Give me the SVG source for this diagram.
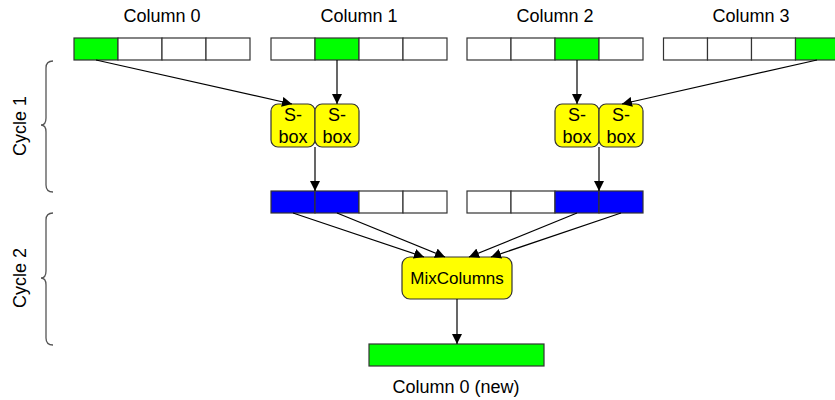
<svg xmlns="http://www.w3.org/2000/svg" width="835" height="400" viewBox="0 0 835 400">
  <defs>
    <marker id="arrow" viewBox="0 0 10 10" refX="10" refY="5" markerWidth="10" markerHeight="10" markerUnits="userSpaceOnUse" orient="auto">
      <path d="M0,0 L10,5 L0,10 Z" fill="#000"/>
    </marker>
  </defs>
  <style>
    text { font-family: "Liberation Sans", Arial, sans-serif; fill: #000; }
    .lbl { font-size: 18px; text-anchor: middle; }
    .mix { font-size: 17px; }
    .cell { fill: #fff; stroke: #333; stroke-width: 1.2; }
    .green { fill: #00ff00; }
    .blue { fill: #0000ff; }
    .box { fill: #ffff00; stroke: #333; stroke-width: 1.2; }
    .edge { stroke: #000; stroke-width: 1.2; fill: none; marker-end: url(#arrow); }
    .brace { stroke: #555; stroke-width: 1.3; fill: none; }
  </style>
  <rect width="835" height="400" fill="#fff"/>

  <!-- input columns -->
  <g id="col0">
    <text class="lbl" x="162" y="22">Column 0</text>
    <rect class="cell green" x="74" y="38" width="44" height="22"/>
    <rect class="cell" x="118" y="38" width="44" height="22"/>
    <rect class="cell" x="162" y="38" width="44" height="22"/>
    <rect class="cell" x="206" y="38" width="44" height="22"/>
  </g>
  <g id="col1">
    <text class="lbl" x="359" y="22">Column 1</text>
    <rect class="cell" x="271" y="38" width="44" height="22"/>
    <rect class="cell green" x="315" y="38" width="44" height="22"/>
    <rect class="cell" x="359" y="38" width="44" height="22"/>
    <rect class="cell" x="403" y="38" width="44" height="22"/>
  </g>
  <g id="col2">
    <text class="lbl" x="555" y="22">Column 2</text>
    <rect class="cell" x="467" y="38" width="44" height="22"/>
    <rect class="cell" x="511" y="38" width="44" height="22"/>
    <rect class="cell green" x="555" y="38" width="44" height="22"/>
    <rect class="cell" x="599" y="38" width="44" height="22"/>
  </g>
  <g id="col3">
    <text class="lbl" x="751" y="22">Column 3</text>
    <rect class="cell" x="663.5" y="38" width="44" height="22"/>
    <rect class="cell" x="707.5" y="38" width="44" height="22"/>
    <rect class="cell" x="751.5" y="38" width="44" height="22"/>
    <rect class="cell green" x="795.5" y="38" width="44" height="22"/>
  </g>

  <!-- S-boxes -->
  <g id="sbox0">
    <rect class="box" x="271" y="104" width="44" height="43" rx="7"/>
    <text class="lbl" x="293" y="121">S-</text>
    <text class="lbl" x="293" y="143">box</text>
  </g>
  <g id="sbox1">
    <rect class="box" x="315" y="104" width="44" height="43" rx="7"/>
    <text class="lbl" x="337" y="121">S-</text>
    <text class="lbl" x="337" y="143">box</text>
  </g>
  <g id="sbox2">
    <rect class="box" x="555" y="104" width="44" height="43" rx="7"/>
    <text class="lbl" x="577" y="121">S-</text>
    <text class="lbl" x="577" y="143">box</text>
  </g>
  <g id="sbox3">
    <rect class="box" x="599" y="104" width="44" height="43" rx="7"/>
    <text class="lbl" x="621" y="121">S-</text>
    <text class="lbl" x="621" y="143">box</text>
  </g>

  <!-- substituted bytes -->
  <g id="mid0">
    <rect class="cell blue" x="271" y="191" width="44" height="22"/>
    <rect class="cell blue" x="315" y="191" width="44" height="22"/>
    <rect class="cell" x="359" y="191" width="44" height="22"/>
    <rect class="cell" x="403" y="191" width="44" height="22"/>
  </g>
  <g id="mid1">
    <rect class="cell" x="467" y="191" width="44" height="22"/>
    <rect class="cell" x="511" y="191" width="44" height="22"/>
    <rect class="cell blue" x="555" y="191" width="44" height="22"/>
    <rect class="cell blue" x="599" y="191" width="44" height="22"/>
  </g>

  <!-- MixColumns -->
  <g id="mixcolumns">
    <rect class="box" x="402" y="257" width="110" height="42" rx="8"/>
    <text class="lbl mix" x="457" y="284">MixColumns</text>
  </g>

  <!-- output column -->
  <g id="out">
    <rect class="cell green" x="369" y="344" width="175" height="22"/>
    <text class="lbl" x="456" y="393">Column 0 (new)</text>
  </g>

  <!-- cycle braces -->
  <g id="cycle1">
    <path class="brace" d="M53,61 Q46,61 46,68 L46,118 Q46,125 41,125 Q46,125 46,132 L46,185 Q46,192 53,192"/>
    <text class="lbl" transform="translate(26,126) rotate(-90)" x="0" y="0">Cycle 1</text>
  </g>
  <g id="cycle2">
    <path class="brace" d="M53,213 Q46,213 46,220 L46,271 Q46,278 41,278 Q46,278 46,285 L46,338 Q46,345 53,345"/>
    <text class="lbl" transform="translate(26,278) rotate(-90)" x="0" y="0">Cycle 2</text>
  </g>

  <!-- connectors -->
  <g id="connectors">
    <line class="edge" x1="96" y1="60" x2="292" y2="104"/>
    <line class="edge" x1="337" y1="60" x2="337" y2="104"/>
    <line class="edge" x1="577" y1="60" x2="577" y2="104"/>
    <line class="edge" x1="817" y1="60" x2="622" y2="104"/>
    <line class="edge" x1="315" y1="147" x2="315" y2="191"/>
    <line class="edge" x1="599" y1="147" x2="599" y2="191"/>
    <line class="edge" x1="293" y1="213" x2="424" y2="257"/>
    <line class="edge" x1="337" y1="213" x2="445" y2="257"/>
    <line class="edge" x1="577" y1="213" x2="469" y2="257"/>
    <line class="edge" x1="621" y1="213" x2="491" y2="257"/>
    <line class="edge" x1="457" y1="299" x2="457" y2="344"/>
  </g>
</svg>
